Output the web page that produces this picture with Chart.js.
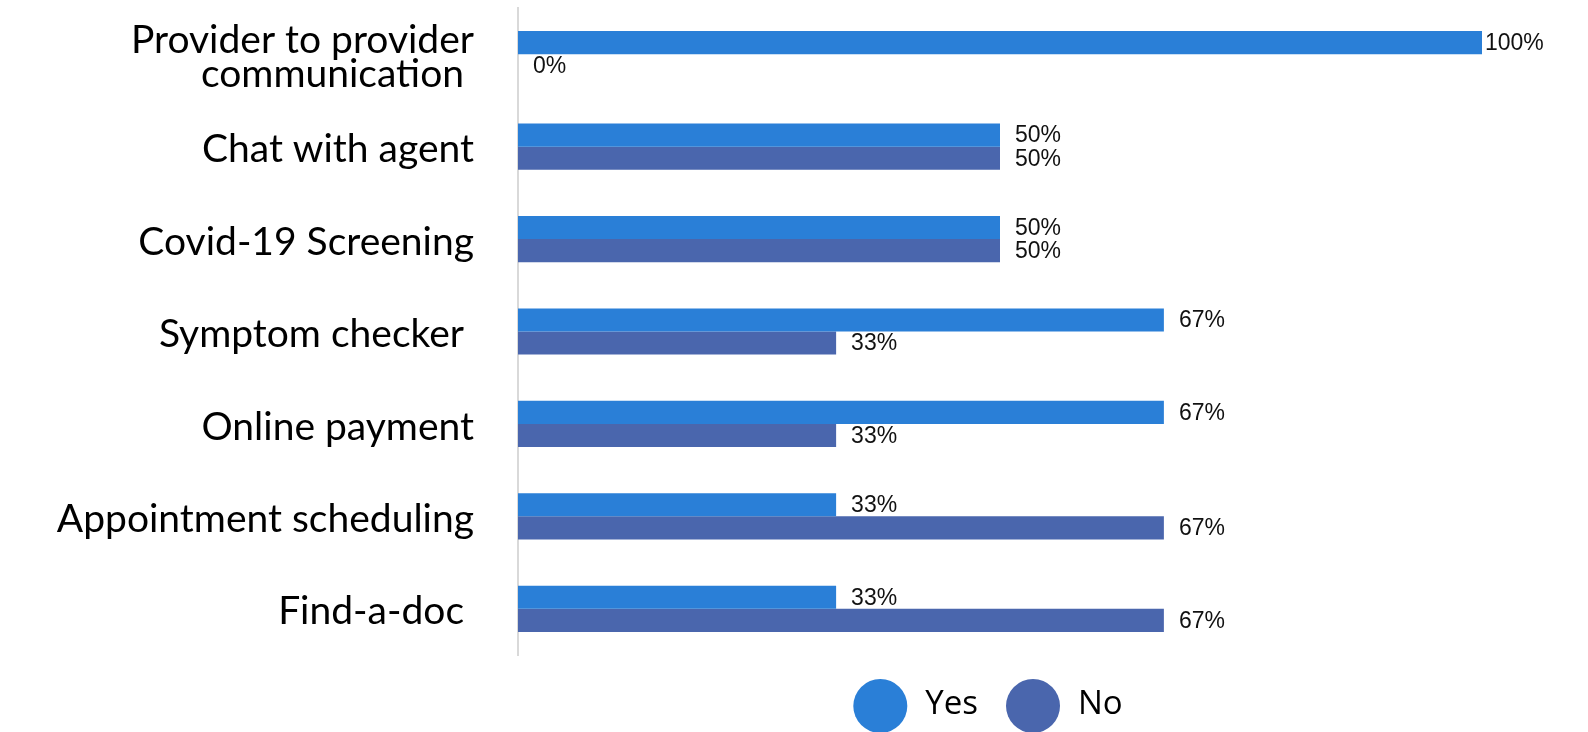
<!DOCTYPE html>
<html>
<head>
<meta charset="utf-8">
<script src="https://cdn.jsdelivr.net/npm/chart.js@4/dist/chart.umd.min.js"></script>
<style>
  html, body { margin: 0; background: #fff; }
  #wrap { width: 1588px; height: 732px; }
</style>
</head>
<body>
<div id="wrap"><canvas id="features"></canvas></div>
<script>
'use strict';

const FEATURES = [
  ['Provider to provider', 'communication '],
  'Chat with agent',
  'Covid-19 Screening',
  'Symptom checker ',
  'Online payment',
  'Appointment scheduling',
  'Find-a-doc ',
];
const YES_PCT = [100, 50, 50, 67, 67, 33, 33];
const NO_PCT = [0, 50, 50, 33, 33, 67, 67];
const SERIES_NAMES = ['Yes', 'No'];
const SERIES_COLORS = ['#2a7fd7', '#4a66ad'];

// "67%" style labels just right of each bar end
const valueLabels = {
  id: 'valueLabels',
  afterDatasetsDraw(chart) {
    const { ctx, chartArea } = chart;
    ctx.save();
    ctx.font = '23px "Liberation Sans", Arial, sans-serif';
    ctx.fillStyle = '#111';
    ctx.textAlign = 'left';
    ctx.textBaseline = 'middle';
    chart.data.datasets.forEach((ds, i) => {
      chart.getDatasetMeta(i).data.forEach((bar, j) => {
        const x = Math.min(bar.x + 15, chartArea.right + 3);
        ctx.fillText(`${ds.data[j]}%`, x, bar.y + 1);
      });
    });
    ctx.restore();
  },
};

// big round swatches under the plot, centred on the bars
const dotLegend = {
  id: 'dotLegend',
  afterDraw(chart) {
    const { ctx, chartArea } = chart;
    const r = 27, gap = 18, spacing = 28;
    const y = chart.height - 26;
    ctx.save();
    ctx.font = '33px "Open Sans", sans-serif';
    const items = chart.data.datasets.map(ds => ({
      label: ds.label, color: ds.backgroundColor, w: ctx.measureText(ds.label).width,
    }));
    const total = items.reduce((s, it) => s + 2 * r + gap + it.w, 0) + spacing * (items.length - 1);
    let x = (chartArea.left + chartArea.right) / 2 - total / 2 - 12;
    ctx.textBaseline = 'middle';
    ctx.textAlign = 'left';
    items.forEach(it => {
      ctx.fillStyle = it.color;
      ctx.beginPath();
      ctx.arc(x + r, y, r, 0, Math.PI * 2);
      ctx.fill();
      ctx.fillStyle = '#000';
      ctx.fillText(it.label, x + 2 * r + gap, y - 1);
      x += 2 * r + gap + it.w + spacing;
    });
    ctx.restore();
  },
};

new Chart(document.getElementById('features'), {
  type: 'bar',
  data: {
    labels: FEATURES,
    datasets: [
      { label: SERIES_NAMES[0], data: YES_PCT, backgroundColor: SERIES_COLORS[0] },
      { label: SERIES_NAMES[1], data: NO_PCT, backgroundColor: SERIES_COLORS[1] },
    ],
  },
  options: {
    indexAxis: 'y',
    responsive: true,
    maintainAspectRatio: false,
    animation: false,
    barPercentage: 1,
    categoryPercentage: 0.5,
    layout: { padding: { top: 8, right: 106, bottom: 77, left: 0 } },
    plugins: {
      legend: { display: false },
      tooltip: { enabled: false },
    },
    scales: {
      x: { display: false, min: 0, max: 100 },
      y: {
        // fixed label column; the tall two-line label must not shrink the plot
        afterFit: scale => {
          scale.width = 518;
          scale.paddingTop = 0;
          scale.paddingBottom = 0;
        },
        grid: { display: false, drawTicks: false },
        border: { display: true, color: '#d9d9d9', width: 2 },
        ticks: {
          autoSkip: false,
          padding: 44,
          labelOffset: 3,
          color: '#000',
          font: { family: 'Lato, sans-serif', size: 39, lineHeight: 0.86 },
        },
      },
    },
  },
  plugins: [valueLabels, dotLegend],
});
</script>
</body>
</html>
